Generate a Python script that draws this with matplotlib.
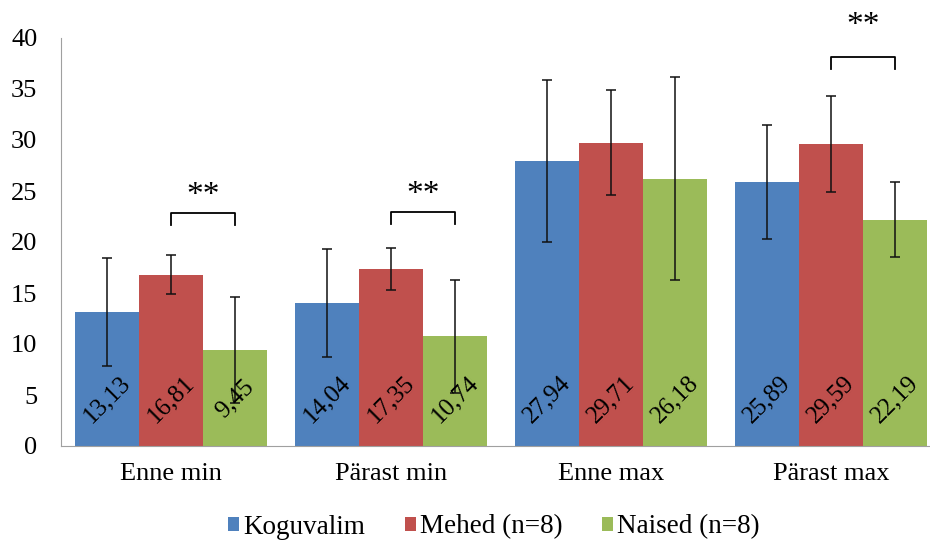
import matplotlib.pyplot as plt
import numpy as np

plt.rcParams['font.family'] = ['Liberation Serif', 'DejaVu Serif']

categories = ['Enne min', 'Pärast min', 'Enne max', 'Pärast max']
series = ['Koguvalim', 'Mehed (n=8)', 'Naised (n=8)']
colors = ['#4F81BD', '#C0504D', '#9BBB59']

koguvalim = [13.13, 14.04, 27.94, 25.89]
mehed = [16.81, 17.35, 29.71, 29.59]
naised = [9.45, 10.74, 26.18, 22.19]

koguvalim_err = [5.3, 5.3, 7.95, 5.6]
mehed_err = [1.9, 2.1, 5.15, 4.7]
naised_err = [5.2, 5.5, 9.95, 3.7]

values = [koguvalim, mehed, naised]
errors = [koguvalim_err, mehed_err, naised_err]

# significance brackets between Mehed and Naised: category index, bracket height, star height
sig_cats = [0, 1, 3]
sig_heights = [22.8, 22.9, 38.1]
star_heights = [24.5, 24.6, 41.2]

fig = plt.figure(figsize=(9.3, 5.46), dpi=100)
ax = fig.add_axes([61 / 930, 100 / 546, 880 / 930, 408 / 546])

x = np.arange(len(categories))
w = 0.873 / 3

for i in range(3):
    pos = x + (i - 1) * w
    ax.bar(pos, values[i], w, color=colors[i], label=series[i], zorder=2)
    ax.errorbar(pos, values[i], yerr=errors[i], fmt='none', ecolor='#111111',
                elinewidth=1.1, capsize=3.4, capthick=1.1, zorder=3)
    for p, v in zip(pos, values[i]):
        ax.text(p, 4.6, f'{v:.2f}'.replace('.', ','), rotation=45,
                ha='center', va='center', fontsize=18, zorder=4,
                rotation_mode='anchor')

for c, h, sh in zip(sig_cats, sig_heights, star_heights):
    x1 = c
    x2 = c + w
    ax.plot([x1, x1, x2, x2], [h - 1.1, h, h, h - 1.1], color='black',
            lw=1.3, clip_on=False, zorder=4)
    ax.text((x1 + x2) / 2, sh, '**', ha='center', va='center',
            fontsize=24, clip_on=False)

ax.set_xlim(-0.5, 3.5)
ax.set_ylim(0, 40)
ax.set_yticks(range(0, 41, 5))
ax.set_xticks(x)
ax.set_xticklabels(categories)
ax.tick_params(axis='both', length=0, labelsize=19)
ax.tick_params(axis='y', pad=17)
ax.tick_params(axis='x', pad=12)
for s in ['top', 'right']:
    ax.spines[s].set_visible(False)
for s in ['left', 'bottom']:
    ax.spines[s].set_color('#A0A0A0')

fig.legend(loc='center', bbox_to_anchor=(494 / 930, 19 / 546), ncol=3,
           frameon=False, fontsize=19.5, handlelength=0.42, handleheight=0.42,
           handletextpad=0.15, columnspacing=1.45)

fig.savefig('out.png', dpi=100)
